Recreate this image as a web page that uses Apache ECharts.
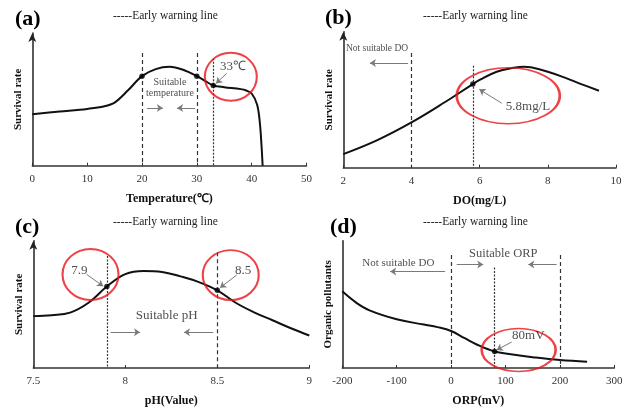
<!DOCTYPE html>
<html><head><meta charset="utf-8">
<script src="https://cdn.jsdelivr.net/npm/echarts@6/dist/echarts.min.js"></script>
<style>html,body{margin:0;padding:0;background:#fff}#c{width:629px;height:408px}</style>
</head><body><div id="c"></div>
<script>
// ---- data ----
const tempX   = [0, 5, 10, 13, 15, 17.5, 20, 22.5, 25, 27.5, 30, 32, 33, 35, 38, 39, 40, 41, 41.5, 41.8, 42];
const survA   = [38.8, 40.8, 42.8, 44.6, 47.5, 57, 67.5, 72.8, 74.6, 72.3, 67.5, 62.7, 60.5, 59.2, 57.7, 56.7, 54.4, 46, 32, 15, 0];
const doX     = [2, 3, 4, 5, 5.8, 6, 6.5, 7, 7.3, 7.5, 8, 8.5, 9, 9.5];
const survB   = [10, 20.3, 33.3, 48.5, 61.5, 64.5, 70.6, 73.5, 74.3, 73.8, 70.6, 66.2, 61.3, 56.6];
const phX     = [7.5, 7.6, 7.7, 7.8, 7.9, 8.0, 8.1, 8.2, 8.3, 8.4, 8.5, 8.6, 8.7, 8.8, 8.9, 9.0];
const survC   = [40.75, 41.5, 43.5, 51.25, 64, 73.75, 76.25, 75.5, 72, 67.5, 61, 51.25, 43.75, 37.5, 31.25, 25.5];
const orpX    = [-200, -175, -150, -100, -50, -25, 0, 25, 50, 80, 100, 150, 200, 250];
const pollD   = [60.2, 51.5, 45.3, 38.3, 34.1, 32.1, 29.1, 23.4, 17.9, 12.9, 11.4, 8.5, 6.2, 5];

const warnA = [20, 30, 33];
const warnB = [4, 5.8];
const warnC = [7.9, 8.5];
const warnD = [0, 80, 200];
const dotsA = [20, 30, 33];
const dotsB = [5.8];
const dotsC = [7.9, 8.5];
const dotsD = [80];

const panelLabels = ['(a)', '(b)', '(c)', '(d)'];
const legendText = '-----Early warning line';
const xNames = ['Temperature(℃)', 'DO(mg/L)', 'pH(Value)', 'ORP(mV)'];
const yNames = ['Survival rate', 'Survival rate', 'Survival rate', 'Organic pollutants'];

// ---- helpers ----
const SERIF = '"Liberation Serif","Times New Roman",serif';
const pair = (xs, ys) => xs.map((x, i) => [x, ys[i]]);
const valAt = (xs, ys, x) => ys[xs.indexOf(x)];

const grids = [
  {left: 32.3, top: 33, width: 274.2, height: 132.7},
  {left: 343.3, top: 31.7, width: 272.7, height: 136},
  {left: 33.3, top: 240.7, width: 276, height: 133.3},
  {left: 342.3, top: 240.7, width: 272, height: 134}
];
const xRanges = [[0, 50, 10], [2, 10, 2], [7.5, 9, 0.5], [-200, 300, 100]];
const arrowsY = [true, true, true, false];

const xAxes = xRanges.map((r, i) => ({
  type: 'value', gridIndex: i, min: r[0], max: r[1], interval: r[2],
  name: xNames[i], nameLocation: 'middle', nameGap: 27,
  nameTextStyle: {fontFamily: SERIF, fontWeight: 'bold', fontSize: 12, color: '#111'},
  axisLine: {show: true, onZero: false, lineStyle: {color: '#333', width: 1.5}},
  axisTick: {show: true, inside: true, length: 3, lineStyle: {color: '#333'}},
  axisLabel: {fontFamily: SERIF, fontSize: 11, color: '#333', margin: 8},
  splitLine: {show: false}
}));
const yAxes = grids.map((g, i) => ({
  type: 'value', gridIndex: i, min: 0, max: 100,
  name: yNames[i], nameLocation: 'middle', nameGap: 9,
  nameTextStyle: {fontFamily: SERIF, fontWeight: 'bold', fontSize: 11, color: '#111'},
  axisLine: {show: true, onZero: false, symbol: arrowsY[i] ? ['none', 'arrow'] : ['none', 'none'], symbolSize: [6, 9], lineStyle: {color: '#222', width: 1.5}},
  axisTick: {show: false}, axisLabel: {show: false}, splitLine: {show: false}
}));

const titles = [];
const labelPos = [[15, 8], [325, 7], [15, 216], [330, 216]];
const legendPos = [[113, 10], [423, 10], [113, 216], [423, 216]];
panelLabels.forEach((t, i) => {
  titles.push({text: t, left: labelPos[i][0], top: labelPos[i][1], padding: 0, textStyle: {fontFamily: SERIF, fontSize: 22, fontWeight: 'bold', color: '#000'}});
  titles.push({text: legendText, left: legendPos[i][0], top: legendPos[i][1], padding: 0, textStyle: {fontFamily: SERIF, fontSize: 11.5, fontWeight: 'normal', color: '#222'}});
});

const series = [];
function curve(i, xs, ys, sm) {
  series.push({type: 'line', xAxisIndex: i, yAxisIndex: i, data: pair(xs, ys), smooth: sm,
    showSymbol: false, lineStyle: {color: '#111', width: 2}, z: 3});
}
function dots(i, xs, ys, pts, warn, warnTop, warnType) {
  series.push({type: 'scatter', xAxisIndex: i, yAxisIndex: i, symbolSize: 5.5, itemStyle: {color: '#000'}, z: 5,
    data: pts.map(x => [x, valAt(xs, ys, x)]),
    markLine: {silent: true, symbol: ['none', 'none'], label: {show: false},
      data: warn.map((x, k) => [
        {coord: [x, warnTop[k]], lineStyle: {type: warnType[k] === 'd' ? [4, 3] : [2, 1.5], color: '#333', width: 1.2}},
        {coord: [x, 0]}])}
  });
}
function circles(i, items, arrows) {
  series.push({type: 'scatter', xAxisIndex: i, yAxisIndex: i, symbol: 'circle', z: 6,
    itemStyle: {color: 'rgba(0,0,0,0)', borderColor: '#e8141a', borderWidth: 2},
    data: items.map(c => ({value: [c[0], c[1]], symbolSize: c[2]})),
    markLine: {silent: true, symbol: ['none', 'arrow'], symbolSize: 6, label: {show: false},
      lineStyle: {color: '#7a7a7a', width: 1, type: 'solid'},
      data: arrows.map(a => [{coord: [a[0], a[1]]}, {coord: [a[2], a[3]]}])}
  });
}
function texts(i, items) {
  series.push({type: 'scatter', xAxisIndex: i, yAxisIndex: i, symbolSize: 1, itemStyle: {color: 'rgba(0,0,0,0)'}, z: 7,
    data: items.map(t => ({value: [t[0], t[1]], name: t[2],
      label: {show: true, position: 'inside', formatter: '{b}', fontFamily: SERIF, fontSize: t[3], lineHeight: t[3] + 1, color: '#222'}}))
  });
}

// (a)
curve(0, tempX, survA, 0.35);
dots(0, tempX, survA, dotsA, warnA, [85, 85, 81], ['d', 'd', 'o']);
circles(0, [[36.2, 67, [52, 48]]], [[35.45, 69.6, 33.5, 62], [20.9, 43.5, 23.8, 43.5], [29.7, 43.5, 26.4, 43.5]]);
texts(0, [[36.6, 74.5, '33℃', 13], [25.1, 59, 'Suitable\ntemperature', 10]]);
// (b)
curve(1, doX, survB, 0.4);
dots(1, doX, survB, dotsB, warnB, [84.3, 75], ['d', 'o']);
circles(1, [[6.84, 52.9, [103, 56]]], [[6.65, 47.4, 5.99, 57.6], [3.9, 77, 2.78, 77]]);
texts(1, [[7.42, 44.6, '5.8mg/L', 13], [2.99, 87.3, 'Not suitable DO', 9.5]]);
// (c)
curve(2, phX, survC, 0.4);
dots(2, phX, survC, dotsC, warnC, [88, 91], ['o', 'd']);
circles(2, [[7.811, 73.5, [56, 51]], [8.573, 73, [56, 50]]],
  [[7.79, 73.5, 7.88, 64.3], [8.605, 73, 8.515, 63], [7.92, 28, 8.08, 28], [8.478, 28, 8.319, 28]]);
texts(2, [[7.75, 76.7, '7.9', 13], [8.641, 76.3, '8.5', 13], [8.225, 41, 'Suitable pH', 13]]);
// (d)
curve(3, orpX, pollD, 0.4);
dots(3, orpX, pollD, dotsD, warnD, [88.8, 78.9, 88.8], ['d', 'o', 'd']);
circles(3, [[124.2, 14.2, [74, 43]]],
  [[111.4, 20.4, 83.8, 14.2], [-11, 75.9, -112, 75.9], [10.3, 81.3, 59.2, 81.3], [194, 81.3, 141.9, 81.3]]);
texts(3, [[142, 25.4, '80mV', 13], [-97, 82.6, 'Not suitable DO', 11], [96, 89.6, 'Suitable ORP', 12.5]]);

const chart = echarts.init(document.getElementById('c'), null, {renderer: 'canvas'});
chart.setOption({
  animation: false, backgroundColor: '#fff',
  title: titles, grid: grids, xAxis: xAxes, yAxis: yAxes, series: series
});
</script></body></html>
